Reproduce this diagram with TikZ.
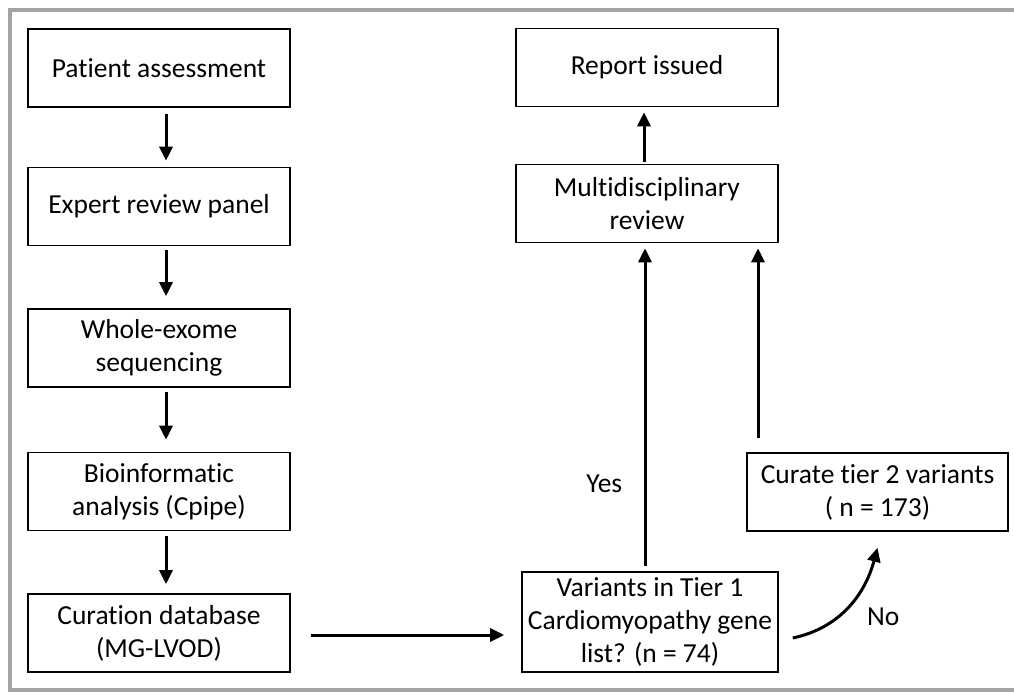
\documentclass[tikz,border=0pt]{standalone}
\usepackage{fontspec}
\setmainfont{Carlito}[Ligatures=NoCommon]
\usetikzlibrary{arrows.meta,positioning,calc}
\definecolor{framegray}{RGB}{163,163,163}
\tikzset{
    block/.style={
        draw,
        rectangle,
        line width=1.6pt,
        minimum width=262pt,
        minimum height=78pt,
        align=center,
        inner sep=2pt,
        font=\fontsize{27.5}{33}\selectfont
    },
    flow/.style={
        line width=3pt,
        -{Triangle[width=13pt,length=14pt]}
    },
    tag/.style={
        font=\fontsize{27.5}{33}\selectfont
    },
}

\begin{document}
\begin{tikzpicture}[x=1pt, y=-1pt]
        \useasboundingbox (0,0) rectangle (1014,692);
        % frame
        \draw[framegray, line width=3.3pt] (1014,10) -- (10,10) -- (10,690) -- (1014,690);

        % blocks
        \node[block] (patient) at (159,68) {Patient assessment};
        \node[block] (expert) at (159,206.5) {Expert review panel};
        \node[block] (wes) at (159,348) {Whole-exome\\sequencing};
        \node[block] (bioinf) at (159,491.5) {Bioinformatic\\analysis (Cpipe)};
        \node[block] (curation) at (159,633) {Curation database\\(MG-LVOD)};
        \node[block] (report) at (647,67.5) {Report issued};
        \node[block] (multi) at (647,203.5) {Multidisciplinary\\review};
        \node[block, minimum width=256pt, minimum height=100pt] (variants) at (650,622) {Variants in Tier 1\\Cardiomyopathy gene\\list? (n = 74)};
        \node[block, minimum width=261pt] (curate) at (877.5,492) {Curate tier 2 variants\\( n = 173)};

        % free ends
        \coordinate (feed) at ([xshift=20pt,yshift=-2pt]curation.east);
        \coordinate (feedend) at ([xshift=-17pt]variants.west);
        \coordinate (tiertwo) at ([xshift=111pt,yshift=-5pt]multi.south);
        \coordinate (tiertop) at ([yshift=14pt]curate.north);

        % lines
        \draw[flow] ([xshift=7pt,yshift=-6pt]patient.south) -- ([xshift=7pt,yshift=6pt]expert.north);
        \draw[flow] ([xshift=7pt,yshift=-4pt]expert.south) -- ([xshift=7pt,yshift=12pt]wes.north);
        \draw[flow] ([xshift=7pt,yshift=-4pt]wes.south) -- ([xshift=7pt,yshift=12pt]bioinf.north);
        \draw[flow] ([xshift=7pt,yshift=-5pt]bioinf.south) -- ([xshift=7pt,yshift=9pt]curation.north);
        \draw[flow] (feed) -- (feed -| feedend);
        \draw[flow] ([xshift=-5pt,yshift=5pt]variants.north) -- node[tag, pos=0.26, left=18pt] {Yes} ([xshift=-2pt,yshift=-5pt]multi.south);
        \draw[flow] (tiertop -| tiertwo) -- (tiertwo);
        \draw[flow] ([xshift=-3pt,yshift=2pt]multi.north) -- ([xshift=-3pt,yshift=-5pt]report.south);
        \draw[flow] ([xshift=14pt,yshift=-16pt]variants.east) to[out=12, in=-105] node[tag, pos=0.5, right=14pt, yshift=-10pt] {No} ([yshift=-16pt]curate.south);
    \end{tikzpicture}
\end{document}
